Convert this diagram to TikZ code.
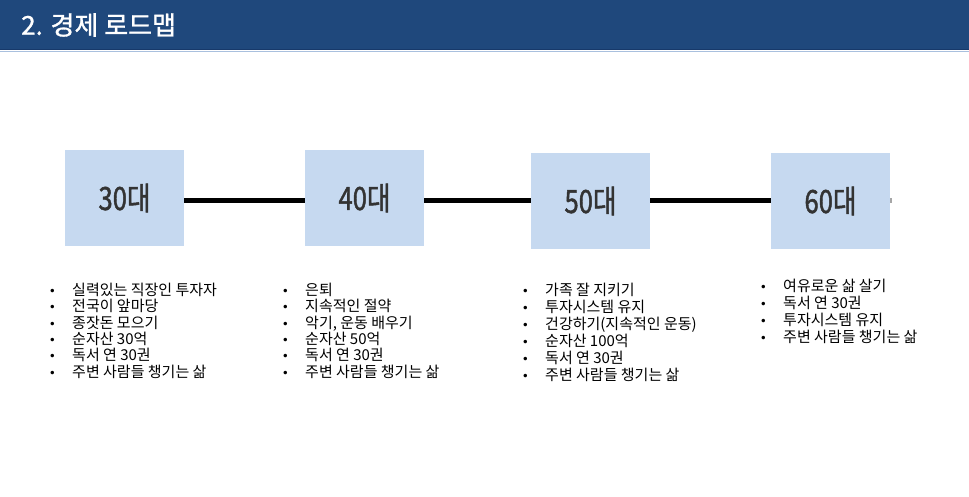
\documentclass[tikz,border=0pt]{standalone}
\usepackage{fontspec}
\usepackage{graphicx}
\setmainfont{Noto Sans CJK KR}
\newfontfamily\bulfont{DejaVu Sans}
\newfontfamily\medfont[FakeBold=1.2]{Noto Sans CJK KR}
\newfontfamily\labfont[FakeBold=1.6]{Noto Sans CJK KR}
\definecolor{hdrblue}{HTML}{1F487C}
\definecolor{hdrline}{HTML}{17396A}
\definecolor{hdrlight}{HTML}{A9C0DE}
\definecolor{boxfill}{HTML}{C6D9F0}
\definecolor{labgray}{HTML}{333333}
\newcommand{\bl}{\makebox[23.3pt][l]{\bulfont\fontsize{12}{12}\selectfont •}}
\newcommand{\lab}[1]{\scalebox{0.8}[1]{#1}}
\tikzset{
  agebox/.style={fill=boxfill, draw=none, minimum width=119pt, minimum height=96pt, inner sep=0pt,
    font=\labfont\fontsize{32}{32}\selectfont, text=labgray},
  conn/.style={line width=5pt, black},
  listbox/.style={anchor=north west, inner sep=0pt, align=left, text=black},
}
\begin{document}
\begin{tikzpicture}[x=1pt,y=-1pt]
\useasboundingbox (0,0) rectangle (969,497);
% header
\fill[hdrblue] (0,0) rectangle (969,50);
\draw[hdrline, line width=1pt] (0,49.5) -- (969,49.5);
\draw[hdrlight, line width=0.6pt] (0,51) -- (969,51);
\node[anchor=west, inner sep=0pt, text=white, font=\medfont\fontsize{26}{26}\selectfont] (title) at (21,25) {2. 경제 로드맵};
% boxes
\node[agebox] (b30) at (124.5,198) {\lab{30대}};
\node[agebox] (b40) at (364.5,198) {\lab{40대}};
\node[agebox] (b50) at (590.5,201) {\lab{50대}};
\node[agebox] (b60) at (830.5,201) {\lab{60대}};
\coordinate (ly) at (0,201);
\coordinate (stub) at (892,201);
\draw[conn] (b30.east |- ly) -- (b40.west |- ly);
\draw[conn] (b40.east |- ly) -- (b50.west |- ly);
\draw[conn] (b50.east |- ly) -- (b60.west |- ly);
\draw[line width=5pt, gray!70] (b60.east |- ly) -- (stub);
% lists
\node[listbox, font=\fontsize{15}{16.3}\selectfont] (l30) at (48.7,283) {%
\bl 실력있는 직장인 투자자\\
\bl 전국이 앞마당\\
\bl 종잣돈 모으기\\
\bl 순자산 30억\\
\bl 독서 연 30권\\
\bl 주변 사람들 챙기는 삶};
\node[listbox, font=\fontsize{15}{16.3}\selectfont] (l40) at (281.7,283) {%
\bl 은퇴\\
\bl 지속적인 절약\\
\bl 악기, 운동 배우기\\
\bl 순자산 50억\\
\bl 독서 연 30권\\
\bl 주변 사람들 챙기는 삶};
\node[listbox, font=\fontsize{15}{17}\selectfont] (l50) at (521.7,283) {%
\bl 가족 잘 지키기\\
\bl 투자시스템 유지\\
\bl 건강하기(지속적인 운동)\\
\bl 순자산 100억\\
\bl 독서 연 30권\\
\bl 주변 사람들 챙기는 삶};
\node[listbox, font=\fontsize{15}{17}\selectfont] (l60) at (759.7,279) {%
\bl 여유로운 삶 살기\\
\bl 독서 연 30권\\
\bl 투자시스템 유지\\
\bl 주변 사람들 챙기는 삶};
\end{tikzpicture}
\end{document}
